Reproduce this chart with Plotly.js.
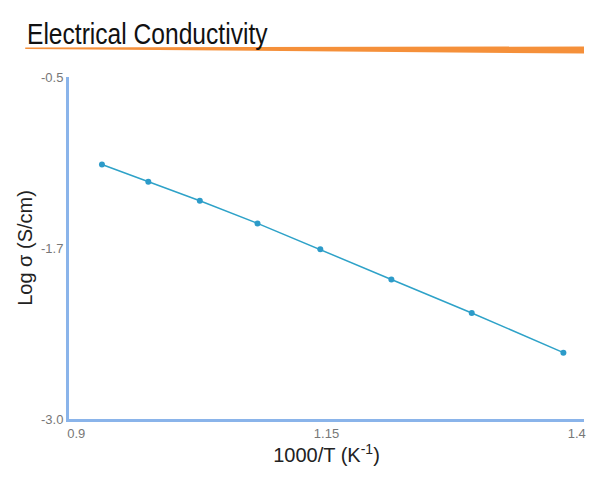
<!DOCTYPE html>
<html>
<head>
<meta charset="utf-8">
<script src="https://cdn.plot.ly/plotly-3.0.1.min.js"></script>
<style>
	body{margin:0;padding:0;background:#fff}
	#chart{width:600px;height:480px}
</style>
</head>
<body>
<div id="chart"></div>
<script>
// 1000/T values and log conductivity
const inv_temp = [0.932, 0.977, 1.027, 1.083, 1.144, 1.213, 1.291, 1.380]
const log_sigma = [-1.14, -1.265, -1.405, -1.57, -1.76, -1.98, -2.225, -2.515]

const x_ticks = [0.9, 1.15, 1.4]
const x_labels = ['\u00a0\u00a0\u00a0\u00a00.9', '1.15', '1.4\u00a0\u00a0\u00a0\u00a0']
const y_ticks = [-0.5, -1.75, -3.0]
const y_labels = ['-0.5', '-1.7', '-3.0']

const AXIS_BLUE = '#8ab4ea'
const FONT = '"Liberation Sans", Arial, sans-serif'

let traces = [
	{
		x: inv_temp,
		y: log_sigma,
		type: 'scatter',
		mode: 'lines+markers',
		line: {color: '#2ea2c8', width: 1.5},
		marker: {color: '#2d9bc9', size: 6},
		hoverinfo: 'x+y'
	}
]

let layout = {
	width: 600,
	height: 480,
	margin: {l: 69, r: 16, t: 77, b: 61},
	paper_bgcolor: '#fff',
	plot_bgcolor: '#fff',
	showlegend: false,
	font: {family: FONT, color: '#777'},
	title: {
		text: 'Electrical Conductivity',
		font: {family: '"Liberation Sans Narrow", "Liberation Sans", Arial, sans-serif', size: 30, color: '#111'},
		xref: 'container', x: 0.045, xanchor: 'left',
		yref: 'container', y: 0.93, yanchor: 'middle'
	},
	xaxis: {
		range: [0.9, 1.4],
		tickvals: x_ticks,
		ticktext: x_labels,
		tickfont: {size: 13, color: '#777'},
		ticklabeloverflow: 'allow',
		ticks: '',
		showgrid: false,
		zeroline: false,
		showline: true,
		linecolor: AXIS_BLUE,
		linewidth: 3,
		title: {text: '1000/T (K<sup>-1</sup>)', font: {size: 20, color: '#222'}, standoff: 0},
		automargin: false
	},
	yaxis: {
		range: [-3.0, -0.5],
		tickvals: y_ticks,
		ticktext: y_labels,
		tickfont: {size: 13, color: '#777'},
		ticklabeloverflow: 'allow',
		ticks: '',
		showgrid: false,
		zeroline: false,
		showline: true,
		linecolor: AXIS_BLUE,
		linewidth: 3,
		title: {text: 'Log σ (S/cm)', font: {size: 20, color: '#222'}, standoff: 3},
		automargin: false
	},
	shapes: [
		{
			// orange wedge under the title
			type: 'path',
			xref: 'paper', yref: 'paper',
			path: 'M -0.085,1.0863 L 1.0,1.0892 L 1.0,1.0687 L -0.085,1.0819 Z',
			fillcolor: '#f5903a',
			line: {width: 0}
		}
	]
}

Plotly.newPlot('chart', traces, layout, {displayModeBar: false, staticPlot: true}).then(function(gd){
	// the title font in the original is a condensed face, squeeze it horizontally
	let t = gd.querySelector('.gtitle')
	if(t){
		let x = parseFloat(t.getAttribute('x')) || 27
		t.setAttribute('transform', 'translate(' + x + ' 0) scale(0.82 1) translate(' + (-x) + ' 0)')
	}
})
</script>
</body>
</html>
